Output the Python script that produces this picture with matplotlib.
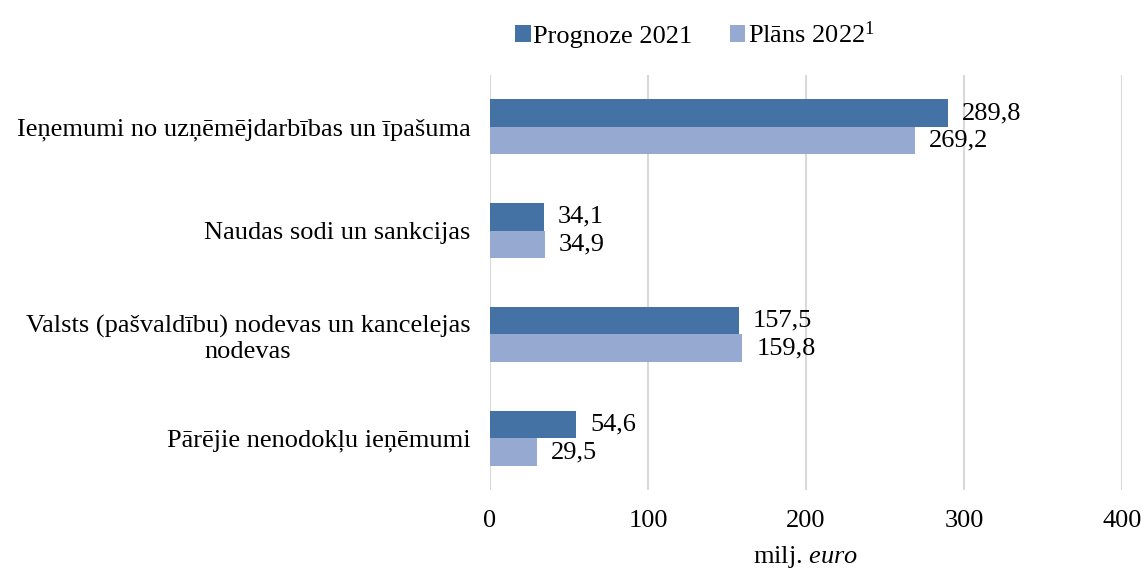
import matplotlib
matplotlib.use("Agg")
import matplotlib.pyplot as plt
import numpy as np

plt.rcParams["font.family"] = ["Liberation Serif", "DejaVu Serif"]
plt.rcParams["mathtext.fontset"] = "custom"
plt.rcParams["mathtext.rm"] = "Liberation Serif"
plt.rcParams["mathtext.it"] = "Liberation Serif:italic"

categories = [
    "Ieņemumi no uzņēmējdarbības un īpašuma",
    "Naudas sodi un sankcijas",
    "Valsts (pašvaldību) nodevas un kancelejas\nnodevas",
    "Pārējie nenodokļu ieņēmumi",
]
prognoze_2021 = [289.8, 34.1, 157.5, 54.6]
plans_2022 = [269.2, 34.9, 159.8, 29.5]
series_names = ["Prognoze 2021", "Plāns 2022$^{1}$"]
x_ticks = [0, 100, 200, 300, 400]

c_dark = "#4472A4"
c_light = "#95A9D1"
fs = 19

fig = plt.figure(figsize=(11.44, 5.72), dpi=100)
ax = fig.add_axes([0.4283, 0.143, 0.5525, 0.726])

y = np.arange(len(categories))
h = 0.265
b1 = ax.barh(y - h / 2, prognoze_2021, height=h, color=c_dark, label=series_names[0], zorder=3)
b2 = ax.barh(y + h / 2, plans_2022, height=h, color=c_light, label=series_names[1], zorder=3)

fmt = lambda v: f"{v:.1f}".replace(".", ",")
for bars, vals in [(b1, prognoze_2021), (b2, plans_2022)]:
    ax.bar_label(bars, labels=[fmt(v) for v in vals], padding=10, fontsize=fs)

ax.set_ylim(len(categories) - 0.5, -0.5)
ax.set_xlim(0, 400)
ax.set_xticks(x_ticks)
ax.set_yticks(y)
ax.set_yticklabels(categories, fontsize=fs, multialignment="center")
ax.tick_params(axis="x", labelsize=fs, length=0, pad=14)
ax.tick_params(axis="y", length=0, pad=14)
ax.grid(axis="x", color="#D9D9D9", linewidth=1.5, zorder=0)
for s in ax.spines.values():
    s.set_visible(False)

ax.set_xlabel("milj. $\\mathit{euro}$", fontsize=fs, labelpad=9)

fig.legend(handles=[b1, b2], labels=series_names, loc="center",
           bbox_to_anchor=(0.6075, 0.94), ncol=2, frameon=False,
           fontsize=fs, handlelength=0.6, handleheight=0.6, handletextpad=0.1,
           columnspacing=1.4)

fig.savefig("out.png", dpi=100)
